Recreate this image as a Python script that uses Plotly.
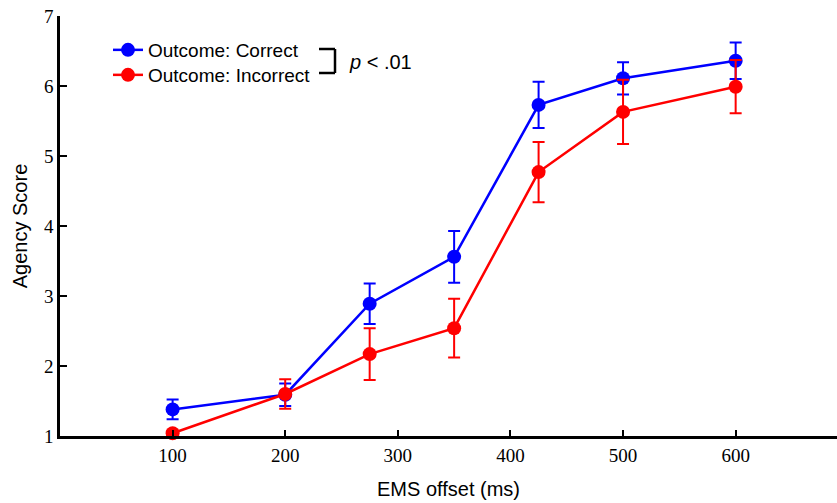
import plotly.graph_objects as go

# ---- data ----
offsets = [100, 200, 275, 350, 425, 500, 600]
correct = [1.38, 1.59, 2.89, 3.56, 5.73, 6.11, 6.36]
correct_err = [0.14, 0.16, 0.29, 0.37, 0.33, 0.23, 0.26]
incorrect = [1.04, 1.60, 2.17, 2.54, 4.77, 5.63, 5.99]
incorrect_err = [0.04, 0.21, 0.37, 0.42, 0.43, 0.46, 0.38]
x_ticks = [100, 200, 300, 400, 500, 600, 700]
y_ticks = [1, 2, 3, 4, 5, 6, 7]

BLUE = "#0000FF"
RED = "#FF0000"

fig = go.Figure()
fig.add_trace(go.Scatter(
    x=offsets, y=correct, mode="lines+markers", name="Outcome: Correct",
    line=dict(color=BLUE, width=2.5),
    marker=dict(color=BLUE, size=14),
    error_y=dict(type="data", array=correct_err, visible=True,
                 color=BLUE, thickness=2, width=6),
    cliponaxis=False, legend="legend",
))
fig.add_trace(go.Scatter(
    x=offsets, y=incorrect, mode="lines+markers", name="Outcome: Incorrect",
    line=dict(color=RED, width=2.5),
    marker=dict(color=RED, size=14),
    error_y=dict(type="data", array=incorrect_err, visible=True,
                 color=RED, thickness=2, width=6),
    cliponaxis=False, legend="legend2",
))

W, H = 837, 503
L, R, T, B = 60, 0, 16, 67
pw, ph = W - L - R, H - T - B

def px(x):
    return (x - L) / pw

def py(y):
    return 1 - (y - T) / ph

# bracket next to legend
bx0, bx1, by0, by1 = 319, 335, 49, 73
for (x0, y0, x1, y1) in [(bx0, by0, bx1, by0), (bx1, by0, bx1, by1), (bx0, by1, bx1, by1)]:
    fig.add_shape(type="line", xref="paper", yref="paper",
                  x0=px(x0), y0=py(y0), x1=px(x1), y1=py(y1),
                  line=dict(color="black", width=2.5))

fig.add_annotation(xref="paper", yref="paper", x=px(347), y=py(62),
                   xanchor="left", yanchor="middle", showarrow=False,
                   text="<i>p</i> < .01",
                   font=dict(family="Liberation Sans, Arial", size=20, color="black"))

leg_common = dict(xanchor="left", yanchor="middle",
                  bgcolor="rgba(0,0,0,0)", borderwidth=0,
                  font=dict(family="Liberation Sans, Arial", size=19, color="black"),
                  itemwidth=30)

fig.update_layout(
    width=W, height=H,
    margin=dict(l=L, r=R, t=T, b=B),
    plot_bgcolor="white", paper_bgcolor="white",
    showlegend=True,
    legend=dict(x=px(108), y=py(50), **leg_common),
    legend2=dict(x=px(108), y=py(75), **leg_common),
    xaxis=dict(
        range=[0, 690], tickvals=x_ticks, ticktext=[str(v) for v in x_ticks],
        ticks="inside", ticklen=6, tickwidth=2, tickcolor="black",
        showline=True, linecolor="black", linewidth=2.5,
        showgrid=False, zeroline=False,
        tickfont=dict(family="Liberation Serif, Times New Roman", size=19, color="black"),
        title=dict(text="EMS offset (ms)", standoff=18,
                   font=dict(family="Liberation Sans, Arial", size=20, color="black")),
    ),
    yaxis=dict(
        range=[1, 7], tickvals=y_ticks, ticktext=[str(v) for v in y_ticks],
        ticks="inside", ticklen=7, tickwidth=2, tickcolor="black",
        showline=True, linecolor="black", linewidth=2.5,
        showgrid=False, zeroline=False,
        tickfont=dict(family="Liberation Serif, Times New Roman", size=19, color="black"),
        title=dict(text="Agency Score", standoff=11,
                   font=dict(family="Liberation Sans, Arial", size=20, color="black")),
    ),
)

fig.write_html("out.html", config={"displayModeBar": False},
               post_script="document.body.style.margin='0px';")
